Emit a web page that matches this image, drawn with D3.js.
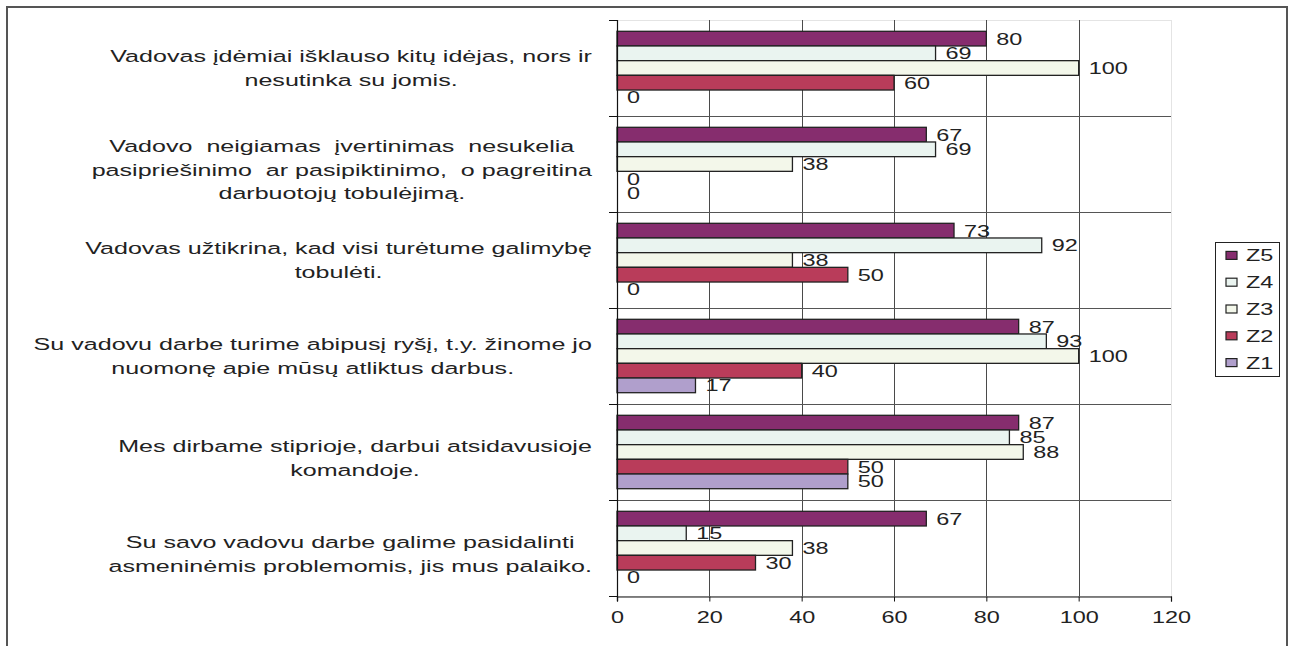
<!DOCTYPE html>
<html>
<head>
<meta charset="utf-8">
<script src="https://cdn.jsdelivr.net/npm/d3@7"></script>
<style>
  html, body { margin: 0; padding: 0; background: #fff; }
  svg { display: block; font-family: "Liberation Sans", Arial, sans-serif; }
</style>
</head>
<body>
<svg id="chart" width="1294" height="646"></svg>
<script>
// ---- data ----
const categories = [
  ["Vadovas įdėmiai išklauso kitų idėjas, nors ir", "nesutinka su jomis."],
  ["Vadovo  neigiamas  įvertinimas  nesukelia", "pasipriešinimo  ar pasipiktinimo,  o pagreitina", "darbuotojų tobulėjimą."],
  ["Vadovas užtikrina, kad visi turėtume galimybę", "tobulėti."],
  ["Su vadovu darbe turime abipusį ryšį, t.y. žinome jo", "nuomonę apie mūsų atliktus darbus."],
  ["Mes dirbame stiprioje, darbui atsidavusioje", "komandoje."],
  ["Su savo vadovu darbe galime pasidalinti", "asmeninėmis problemomis, jis mus palaiko."]
];
const seriesNames = ["Z5", "Z4", "Z3", "Z2", "Z1"];
const Z5 = [80, 67, 73, 87, 87, 67];
const Z4 = [69, 69, 92, 93, 85, 15];
const Z3 = [100, 38, 38, 100, 88, 38];
const Z2 = [60, 0, 50, 40, 50, 30];
const Z1 = [0, 0, 0, 17, 50, 0];
const xTicks = [0, 20, 40, 60, 80, 100, 120];
const colors = ["#862d6e", "#eaf4f0", "#f3f7ea", "#b93c5a", "#b09fcc"];

const seriesValues = [Z5, Z4, Z3, Z2, Z1];

// ---- layout ----
const SX = 1.42;           // horizontal stretch of glyphs in the reference
const SXcat = 1.52;
const FS = 16.5;
const plot = { left: 617, right: 1171, top: 20, bottom: 596 };
const labelShift = [0, 6, 0, 0, 6, 6];   // vertical nudges of category label blocks

const svg = d3.select("#chart");

// outer frame
svg.append("rect")
  .attr("x", 7).attr("y", 7).attr("width", 1280).attr("height", 660)
  .attr("fill", "none").attr("stroke", "#555").attr("stroke-width", 2);

const x = d3.scaleLinear().domain([0, 120]).range([plot.left, plot.right]);
const y0 = d3.scaleBand().domain(d3.range(categories.length))
  .range([plot.top, plot.bottom]).paddingInner(0).paddingOuter(0);
const y1 = d3.scaleBand().domain(d3.range(seriesNames.length))
  .range([0, y0.bandwidth()]).paddingInner(0).paddingOuter(0.77);

// plot area faint frame
svg.append("rect")
  .attr("x", plot.left + 0.5).attr("y", plot.top + 0.5)
  .attr("width", plot.right - plot.left).attr("height", plot.bottom - plot.top)
  .attr("fill", "none").attr("stroke", "#e4e4e4").attr("stroke-width", 1);

// vertical gridlines
svg.append("g").selectAll("line")
  .data(xTicks.filter(t => t > 0 && t < 120))
  .join("line")
  .attr("x1", d => Math.round(x(d)) + 0.5).attr("x2", d => Math.round(x(d)) + 0.5)
  .attr("y1", plot.top).attr("y2", plot.bottom)
  .attr("stroke", "#4a4a4a").attr("stroke-width", 1);

// horizontal category gridlines
svg.append("g").selectAll("line")
  .data(d3.range(1, categories.length))
  .join("line")
  .attr("x1", plot.left).attr("x2", plot.right)
  .attr("y1", d => Math.round(y0(d)) + 0.5).attr("y2", d => Math.round(y0(d)) + 0.5)
  .attr("stroke", "#555").attr("stroke-width", 1);

// bars
const groups = svg.append("g").selectAll("g")
  .data(categories.map((c, i) => i))
  .join("g")
  .attr("transform", i => `translate(0,${y0(i)})`);

groups.selectAll("rect")
  .data(i => seriesValues.map((s, k) => ({ k, v: s[i] })))
  .join("rect")
  .filter(d => d.v > 0)
  .attr("x", x(0))
  .attr("y", d => y1(d.k))
  .attr("width", d => x(d.v) - x(0))
  .attr("height", y1.bandwidth())
  .attr("fill", d => colors[d.k])
  .attr("stroke", "#222")
  .attr("stroke-width", 1.3);

// value labels
groups.selectAll("text")
  .data(i => seriesValues.map((s, k) => ({ k, v: s[i] })))
  .join("text")
  .attr("transform", d => `translate(${x(d.v) + 10},${y1(d.k) + y1.bandwidth() / 2}) scale(${SX},1)`)
  .attr("dy", "0.36em")
  .attr("font-size", FS)
  .attr("fill", "#222")
  .text(d => d.v);

// y axis
const yAxis = svg.append("g");
yAxis.append("line")
  .attr("x1", plot.left + 0.5).attr("x2", plot.left + 0.5)
  .attr("y1", plot.top).attr("y2", plot.bottom + 5)
  .attr("stroke", "#111").attr("stroke-width", 1.2);
yAxis.selectAll("line.tick")
  .data(d3.range(0, categories.length + 1))
  .join("line").attr("class", "tick")
  .attr("x1", plot.left - 8).attr("x2", plot.left)
  .attr("y1", d => Math.round(d < categories.length ? y0(d) : plot.bottom) + 0.5)
  .attr("y2", d => Math.round(d < categories.length ? y0(d) : plot.bottom) + 0.5)
  .attr("stroke", "#111");

// x axis (D3 axis)
const xAxis = d3.axisBottom(x).tickValues(xTicks).tickSize(5).tickPadding(10).tickFormat(d3.format("d"));
const xg = svg.append("g").attr("transform", `translate(0,${plot.bottom + 0.5})`).call(xAxis);
xg.select(".domain").attr("stroke", "#111").attr("stroke-width", 1.2);
xg.selectAll(".tick line").attr("stroke", "#111");
xg.selectAll(".tick text")
  .attr("font-size", FS).attr("font-family", "Liberation Sans, Arial, sans-serif")
  .attr("fill", "#222")
  .attr("transform", `scale(${SX},1)`)
  .attr("x", 0);

// category labels (centered lines, block right-aligned near axis)
const lineH = 23.5;
const labelRight = 592;
const catG = svg.append("g");
categories.forEach((lines, i) => {
  const cy = y0(i) + y0.bandwidth() / 2 + labelShift[i];
  const tmp = catG.append("g");
  const texts = tmp.selectAll("text").data(lines).join("text")
    .attr("font-size", FS).attr("fill", "#222").attr("text-anchor", "middle")
    .attr("xml:space", "preserve").style("white-space", "pre")
    .text(d => d);
  let maxW = 0;
  texts.each(function() { maxW = Math.max(maxW, this.getComputedTextLength()); });
  const cx = labelRight - maxW * SXcat / 2;
  texts.attr("transform", (d, j) =>
    `translate(${cx},${cy + (j - (lines.length - 1) / 2) * lineH}) scale(${SXcat},1)`)
    .attr("dy", "0.36em");
});

// legend
const legTop = 242, legLeft = 1215, legW = 64, legRowH = 26.8;
const leg = svg.append("g");
leg.append("rect")
  .attr("x", legLeft + 0.5).attr("y", legTop + 0.5)
  .attr("width", legW).attr("height", seriesNames.length * legRowH)
  .attr("fill", "#fff").attr("stroke", "#222").attr("stroke-width", 1);
const rows = leg.selectAll("g.row").data(seriesNames).join("g").attr("class", "row")
  .attr("transform", (d, k) => `translate(${legLeft},${legTop + legRowH * (k + 0.5)})`);
rows.append("rect")
  .attr("x", 11).attr("y", -4).attr("width", 11).attr("height", 8)
  .attr("fill", (d, k) => colors[k]).attr("stroke", "#222").attr("stroke-width", 1.2);
rows.append("text")
  .attr("transform", `translate(31,0) scale(${SX},1)`)
  .attr("dy", "0.36em").attr("font-size", FS).attr("fill", "#222")
  .text(d => d);
</script>
</body>
</html>
